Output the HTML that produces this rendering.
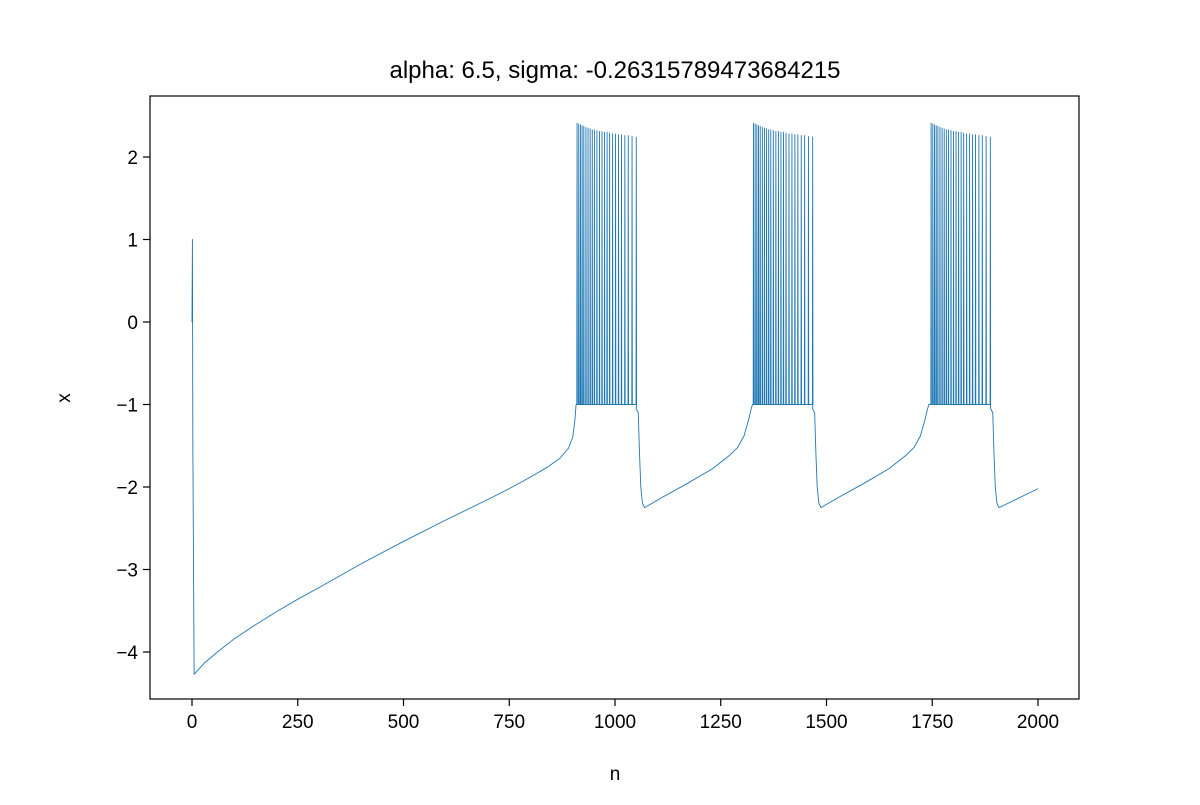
<!DOCTYPE html>
<html><head><meta charset="utf-8"><style>
body{margin:0;background:#fff;font-family:"Liberation Sans","DejaVu Sans",sans-serif}
</style></head><body>
<svg id="chart" width="1200" height="800" xmlns="http://www.w3.org/2000/svg">
<rect width="1200" height="800" fill="#fff"/>
<text x="615" y="78" font-size="24" text-anchor="middle">alpha: 6.5, sigma: -0.26315789473684215</text>
<g id="ticks"></g>
<g id="plot"></g>
<rect x="150" y="96" width="929" height="603" fill="none" stroke="#000" stroke-width="1.2"/>
<text x="615" y="780" font-size="19" text-anchor="middle">n</text>
<text x="70" y="398" font-size="19" text-anchor="middle" transform="rotate(-90 70 398)">x</text>
</svg>
<script>
const xTicks=[0,250,500,750,1000,1250,1500,1750,2000];
const yTicks=[-4,-3,-2,-1,0,1,2];
const startN=[0,1,2,5,30,60,100,150,200,250,300,400,500,600,700,750,800,840,870,890,900,905,908];
const startX=[0,1,-1.5,-4.27,-4.13,-4.0,-3.84,-3.67,-3.51,-3.36,-3.22,-2.93,-2.66,-2.4,-2.15,-2.02,-1.88,-1.76,-1.65,-1.53,-1.4,-1.2,-1.0];
const burstStarts=[910,1327,1747];
const spikeOffsets=[0,4,8,12,16,21,26,31,36,41,47,53,59,65,71,77,84,91,98,105,113,121,130,140];
const spikePeaks=[2.41,2.4,2.39,2.38,2.37,2.36,2.35,2.34,2.33,2.33,2.32,2.31,2.31,2.3,2.3,2.29,2.28,2.28,2.27,2.27,2.26,2.26,2.25,2.24];
const afterN=[0,5,8,11,15,20,60,120,180,220,240,255,265,272,275];
const afterX=[-1.05,-1.1,-1.6,-2.0,-2.2,-2.25,-2.13,-1.96,-1.78,-1.62,-1.52,-1.38,-1.2,-1.05,-1.0];
const endN=[1888,1893,1896,1899,1903,1908,2000];
const endX=[-1.05,-1.1,-1.6,-2.0,-2.2,-2.25,-2.02];
const xs=n=>192+n*(1038-192)/2000;
const ys=v=>322-v*82.5;
const NS="http://www.w3.org/2000/svg";
const tg=document.getElementById('ticks'),pg=document.getElementById('plot');
function mk(tag,attrs,parent){const e=document.createElementNS(NS,tag);for(const k in attrs)e.setAttribute(k,attrs[k]);parent.appendChild(e);return e;}
xTicks.forEach(t=>{const l=mk('line',{x1:xs(t),x2:xs(t),y1:699,y2:706,stroke:'#000','stroke-width':1.2},tg);


const tx=mk('text',{x:xs(t),y:728,'font-size':19,'text-anchor':'middle'},tg);tx.textContent=t;

});
yTicks.forEach(t=>{const l=mk('line',{x1:143,x2:150,y1:ys(t),y2:ys(t),stroke:'#000','stroke-width':1.2},tg);


const tx=mk('text',{x:138,y:ys(t)+7,'font-size':19,'text-anchor':'end'},tg);tx.textContent=(t<0?'\u2212'+(-t):t);

});
let pts=[];
startN.forEach((n,i)=>pts.push([n,startX[i]]));
burstStarts.forEach((b,bi)=>{
 spikeOffsets.forEach((o,i)=>{pts.push([b+o-0.3,-1]);pts.push([b+o+0.3,spikePeaks[i]]);pts.push([b+o+1,-1]);});
 if(bi<burstStarts.length-1){const e=b+spikeOffsets[spikeOffsets.length-1];afterN.forEach((a,i)=>pts.push([e+a,afterX[i]]));}
});
endN.forEach((n,i)=>pts.push([n,endX[i]]));
const pl=mk('polyline',{points:pts.map(p=>xs(p[0]).toFixed(2)+','+ys(p[1]).toFixed(2)).join(' '),fill:'none',stroke:'#1f77b4','stroke-width':0.9,'stroke-linejoin':'round'},pg);


</script>
</body></html>
